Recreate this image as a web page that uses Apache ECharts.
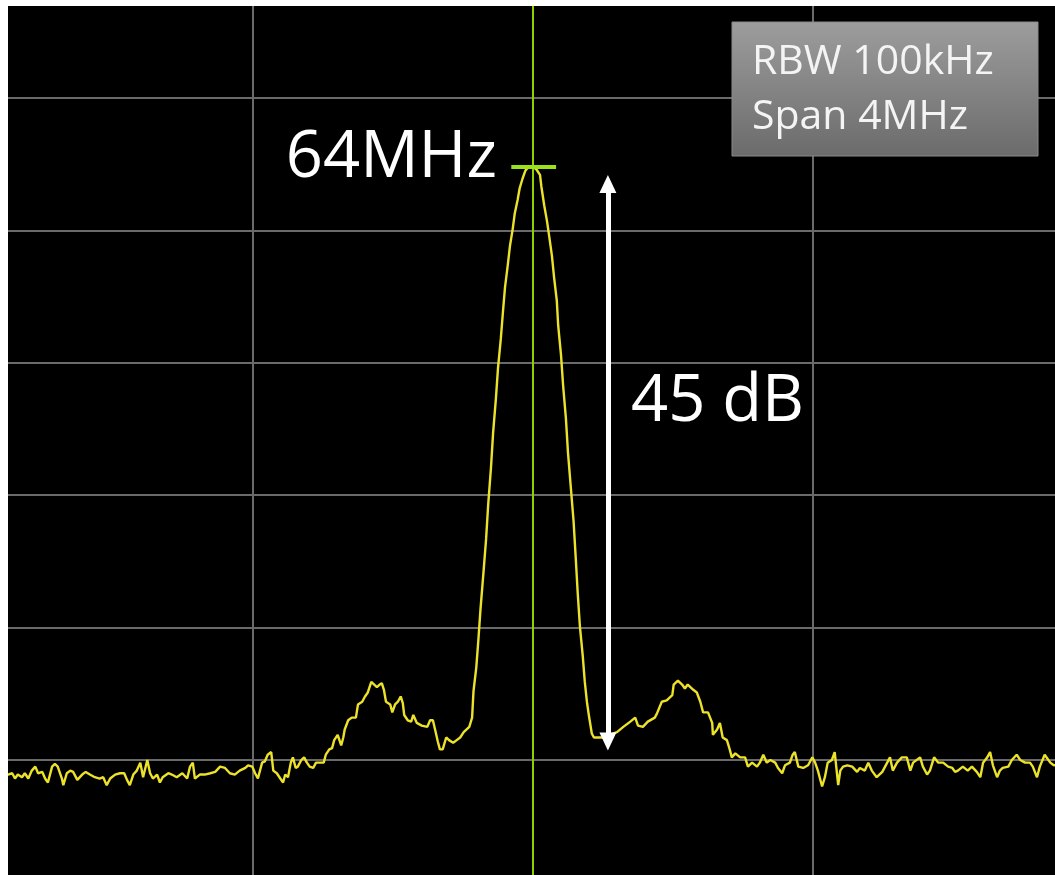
<!DOCTYPE html>
<html>
<head>
<meta charset="utf-8">
<script src="https://cdn.jsdelivr.net/npm/echarts@6/dist/echarts.min.js"></script>
<style>
html,body{margin:0;padding:0;background:#fff;}
#chart{width:1055px;height:875px;}
</style>
</head>
<body>
<div id="chart"></div>
<script>
// Frequency offset from the 64 MHz centre, in kHz
var freqKHz = [
-760,-750,-744,-740,-736,-730,-726,-721,-716,-711,-707,-701,-697,-693,-687,-683,-679,-673,-671,-666,
-661,-657,-651,-644,-639,-633,-626,-619,-614,-609,-604,-597,-590,-584,-580,-576,-571,-566,-561,-557,
-551,-547,-543,-537,-533,-529,-521,-516,-509,-501,-494,-490,-486,-483,-476,-469,-461,-454,-447,-440,
-433,-426,-419,-411,-407,-401,-397,-393,-387,-383,-379,-374,-371,-366,-361,-357,-354,-350,-346,-343,
-339,-336,-331,-327,-323,-319,-314,-310,-304,-299,-296,-291,-287,-284,-279,-274,-271,-269,-264,-259,
-253,-250,-244,-240,-236,-231,-229,-223,-219,-216,-213,-210,-204,-201,-197,-193,-189,-186,-184,-179,
-174,-171,-166,-159,-151,-147,-143,-139,-136,-133,-129,-124,-120,-114,-109,-104,-99,-91,-87,-85,
-81,-78,-75,-71,-67,-64,-60,-57,-53,-50,-46,-43,-40,-36,-33,-29,-26,-22,-19,-15,
-11,-8,0,5,10,12,16,20,23,27,30,34,36,40,43,47,50,54,58,61,
64,67,71,74,77,80,84,87,99,120,129,139,146,150,157,164,174,177,184,191,
199,201,207,213,217,221,229,234,239,243,250,256,257,263,267,271,277,281,284,289,
296,303,307,313,320,324,329,334,339,346,350,356,360,367,371,374,379,386,393,399,
403,407,413,417,421,427,431,436,439,443,449,456,463,467,474,479,484,491,499,506,
510,514,520,527,534,539,543,553,557,563,567,573,579,586,593,599,603,607,614,621,
627,634,639,643,649,653,657,663,667,671,679,684,691,696,703,710,714,720,724,731,
739,744,760
];
// Measured level, dBm
var levelDBm = [
-71.0,-71.1,-71.0,-71.4,-71.1,-71.3,-71.0,-71.4,-70.8,-70.5,-71.0,-70.9,-71.4,-71.7,-70.5,-70.3,-70.5,-71.4,-71.9,-71.0,
-70.8,-70.9,-71.5,-71.1,-70.9,-71.1,-71.3,-71.4,-71.3,-71.9,-71.4,-71.1,-71.0,-71.0,-71.5,-71.9,-71.1,-70.8,-70.2,-71.3,
-70.0,-71.0,-71.4,-71.1,-71.7,-71.3,-71.0,-71.1,-71.3,-71.0,-71.4,-70.5,-70.2,-71.4,-71.1,-71.1,-71.0,-70.9,-70.5,-70.6,
-71.0,-71.1,-70.8,-70.6,-70.4,-70.5,-71.0,-71.4,-70.2,-70.1,-69.6,-69.4,-70.8,-71.0,-71.4,-71.7,-71.1,-71.3,-70.2,-69.8,
-70.6,-70.5,-70.0,-69.8,-70.2,-70.5,-70.6,-70.2,-70.2,-70.2,-69.6,-69.2,-69.1,-68.5,-68.1,-68.9,-68.3,-67.7,-67.0,-66.8,
-66.8,-65.8,-65.6,-65.2,-64.9,-64.1,-64.0,-64.5,-64.3,-64.2,-64.7,-65.6,-65.8,-66.4,-65.8,-65.6,-65.2,-65.7,-66.6,-67.0,
-67.1,-66.6,-67.2,-67.4,-67.5,-67.0,-67.0,-67.9,-68.6,-69.2,-69.2,-68.3,-68.5,-68.7,-68.5,-68.3,-67.9,-67.5,-66.8,-64.8,
-63.0,-60.9,-58.6,-56.0,-53.3,-50.7,-47.9,-45.3,-42.7,-40.4,-38.2,-36.2,-34.3,-32.6,-31.2,-29.9,-28.7,-27.7,-26.8,-26.1,
-25.5,-25.3,-25.2,-25.4,-25.8,-26.7,-28.1,-29.3,-30.4,-31.9,-33.5,-35.3,-37.2,-39.4,-41.7,-44.2,-46.8,-49.4,-52.0,-54.7,
-57.5,-59.9,-62.1,-64.1,-65.6,-66.7,-68.0,-68.3,-68.3,-67.9,-67.5,-67.1,-66.8,-67.4,-67.5,-67.1,-66.8,-66.5,-65.6,-65.5,
-65.1,-64.3,-64.0,-64.3,-64.6,-64.3,-64.7,-64.9,-65.6,-66.4,-66.4,-67.2,-68.1,-67.7,-67.2,-68.3,-68.5,-69.2,-69.8,-69.5,
-69.8,-69.8,-70.5,-70.2,-70.5,-70.2,-69.6,-70.2,-70.0,-70.2,-70.6,-71.0,-70.4,-70.2,-69.6,-69.4,-70.5,-70.6,-70.4,-69.8,
-70.2,-70.8,-72.0,-71.3,-70.2,-70.0,-69.4,-71.9,-70.8,-70.5,-70.4,-70.5,-70.9,-70.6,-70.8,-70.2,-70.8,-71.3,-70.9,-70.2,
-69.8,-70.8,-70.2,-69.8,-69.8,-70.8,-70.2,-69.8,-70.5,-71.1,-70.8,-69.8,-70.2,-70.2,-70.5,-70.6,-70.9,-70.8,-70.5,-70.8,
-70.5,-70.9,-71.3,-70.2,-69.8,-69.4,-70.4,-71.3,-70.8,-70.6,-70.5,-70.0,-69.6,-70.0,-70.2,-70.2,-70.5,-71.3,-70.5,-69.6,
-70.2,-70.4,-70.3
];
// Marker and annotation values
var markerFreqKHz = 0;
var markerLevelDBm = -25.2;
var markerBarKHz = [-31, 33];
var arrowFreqKHz = 107;
var arrowLevelsDBm = [-26.5, -68.6];
var markerLabel = '64MHz';
var deltaLabel = '45 dB';
var infoLines = ['RBW 100kHz', 'Span 4MHz'];

var traceData = freqKHz.map(function (f, i) { return [f, levelDBm[i]]; });

var chart = echarts.init(document.getElementById('chart'), null, {renderer: 'canvas'});
chart.setOption({
  animation: false,
  backgroundColor: '#000000',
  grid: {left: -27, width: 1120, top: -34.4, height: 926.8, containLabel: false, outerBoundsMode: 'none'},
  xAxis: {
    type: 'value', min: -800, max: 800, interval: 400,
    axisLine: {show: false}, axisTick: {show: false}, axisLabel: {show: false},
    splitLine: {show: true, lineStyle: {color: '#6a6a6a', width: 2}}
  },
  yAxis: {
    type: 'value', min: -80, max: -10, interval: 10,
    axisLine: {show: false}, axisTick: {show: false}, axisLabel: {show: false},
    splitLine: {show: true, lineStyle: {color: '#6a6a6a', width: 2}}
  },
  series: [
    {
      type: 'line',
      data: traceData,
      showSymbol: false,
      symbol: 'none',
      smooth: false,
      lineStyle: {color: '#ece22a', width: 2.4},
      z: 3,
      markLine: {
        silent: true,
        symbol: ['none', 'none'],
        label: {show: false},
        data: [
          {xAxis: markerFreqKHz, lineStyle: {color: '#8fd000', width: 2, type: 'solid'}}
        ]
      }
    },
    {
      type: 'line',
      data: [],
      z: 4,
      markLine: {
        silent: true,
        symbol: ['none', 'none'],
        label: {show: false},
        data: [
          [
            {coord: [markerBarKHz[0], markerLevelDBm], lineStyle: {color: '#9be21a', width: 4, type: 'solid'}},
            {coord: [markerBarKHz[1], markerLevelDBm]}
          ]
        ]
      }
    },
    {
      type: 'line',
      data: [],
      z: 5,
      markLine: {
        silent: true,
        symbol: ['triangle', 'triangle'],
        symbolSize: [17, 18],
        label: {show: false},
        data: [
          [
            {coord: [arrowFreqKHz, arrowLevelsDBm[0]], lineStyle: {color: '#ffffff', width: 5, type: 'solid'}, itemStyle: {color: '#ffffff'}},
            {coord: [arrowFreqKHz, arrowLevelsDBm[1]]}
          ]
        ]
      }
    }
  ],
  graphic: [
    {type: 'rect', z: 100, shape: {x: 0, y: 0, width: 1055, height: 6}, style: {fill: '#ffffff'}},
    {type: 'rect', z: 100, shape: {x: 0, y: 0, width: 8, height: 875}, style: {fill: '#ffffff'}},
    {type: 'text', z: 50, x: 497, y: 158, style: {text: markerLabel, fill: '#ffffff', font: '65px "Open Sans"', textAlign: 'right', textVerticalAlign: 'middle'}},
    {type: 'text', z: 50, x: 631, y: 402, style: {text: deltaLabel, fill: '#ffffff', font: '65px "Open Sans"', textAlign: 'left', textVerticalAlign: 'middle'}},
    {type: 'rect', z: 50, shape: {x: 732, y: 22, width: 306, height: 134},
      style: {fill: new echarts.graphic.LinearGradient(0, 0, 0, 1, [{offset: 0, color: '#9d9d9d'}, {offset: 1, color: '#6b6b6b'}]), stroke: '#8a8a8a', lineWidth: 1}},
    {type: 'text', z: 51, x: 752, y: 62, style: {text: infoLines[0], fill: '#f4f4f4', font: '41px "Open Sans"', textAlign: 'left', textVerticalAlign: 'middle'}},
    {type: 'text', z: 51, x: 752, y: 117, style: {text: infoLines[1], fill: '#f4f4f4', font: '41px "Open Sans"', textAlign: 'left', textVerticalAlign: 'middle'}}
  ]
});
</script>
</body>
</html>
